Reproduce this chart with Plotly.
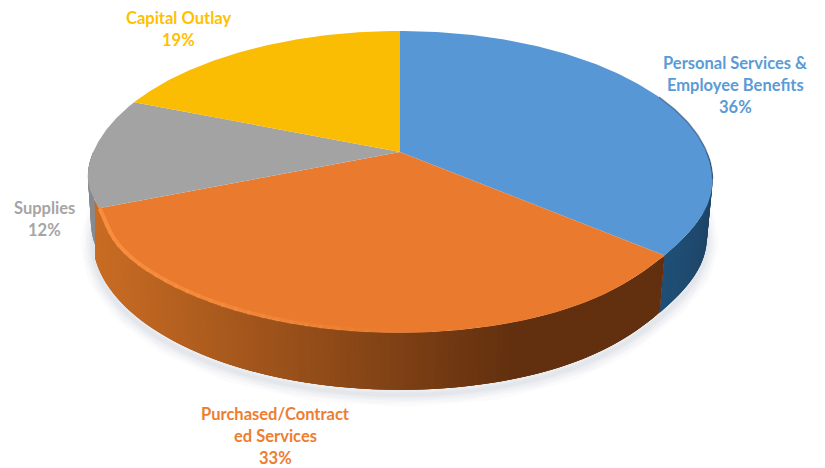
import numpy as np
import plotly.graph_objects as go

categories = ["Personal Services &\nEmployee Benefits", "Purchased/Contract\ned Services", "Supplies", "Capital Outlay"]
shares = [36, 33, 12, 19]
top_colors = ["#5797D5", "#EA7A2E", "#A3A3A3", "#FBBC04"]
text_colors = ["#5B9BD5", "#ED7D31", "#A5A5A5", "#FFC000"]
wall_near = [(32, 80, 120), (200, 108, 36), (135, 138, 142), None]
wall_far = [(30, 60, 90), (98, 48, 15), (110, 112, 116), None]
label_centres = [(735, 63), (275, 414), (44, 208), (178, 18)]

W, H = 825, 468
CX, CY, A, B, K, DEPTH = 400, 152, 145.0, 306.8, 0.198, 57
LOWER_SCALE = 0.982


def rim(theta, left_pinch=True):
    theta = np.asarray(theta, dtype=float)
    w = 1 + K * np.cos(theta)
    # the lens of the 3-D view pulls the two front corners in slightly
    pinch = np.exp(-((theta - 2.26) / 0.3) ** 2)
    if left_pinch:
        pinch = pinch + np.exp(-((theta - 4.3) / 0.16) ** 2)
    f = 1 - 0.022 * pinch
    return CX + f * B * np.sin(theta) / w, CY - f * A * np.cos(theta) / w


def lower(x, y, depth):
    return CX + (x - CX) * (1 - (1 - LOWER_SCALE) * depth / DEPTH), y + depth


fig = go.Figure()


def poly(x, y, fill, width=0):
    fig.add_trace(go.Scatter(x=x, y=y, mode="lines", fill="toself", fillcolor=fill,
                             line=dict(color=fill, width=width),
                             hoverinfo="skip", showlegend=False))


fracs = np.cumsum([0] + shares) / sum(shares) * 2 * np.pi
circle = np.linspace(0, 2 * np.pi, 361)
sx, sy = lower(*rim(circle, left_pinch=False), DEPTH)

# soft shadow below the disc
for wd, a in [(24, .05), (18, .06), (13, .07), (8, .08), (4, .10)]:
    fig.add_trace(go.Scatter(x=sx, y=sy + 5, mode="lines",
                             line=dict(color=f"rgba(170,178,195,{a})", width=wd),
                             hoverinfo="skip", showlegend=False))

# side walls, only the part of each slice that faces the viewer; grey first so orange overlaps it
for i in [2, 0, 1]:
    lo, hi = max(fracs[i], np.pi / 2), min(fracs[i + 1], 3 * np.pi / 2)
    if i == 1:
        hi += 0.05
    depth = 38 if i == 2 else DEPTH
    steps = max(4, int((hi - lo) * 60))
    edges = np.linspace(lo, hi, steps + 1)
    for j in range(steps):
        # each band runs on under the next one, so no seam shows between them
        t = np.linspace(edges[j], edges[min(j + 3, steps)], 10)
        x, y = rim(t)
        bx, by = lower(*rim(t, left_pinch=False), depth)
        mix = np.clip((rim(edges[j])[0] - 100) / 420, 0, 1)
        if i == 0:
            mix = 1 - (edges[j] - lo) / (hi - lo)
        c = [int(wall_near[i][n] * (1 - mix) + wall_far[i][n] * mix) for n in range(3)]
        poly(np.r_[x, bx[::-1]], np.r_[y, by[::-1]], f"rgb({c[0]},{c[1]},{c[2]})")

# top faces
for i in range(len(shares)):
    t = np.linspace(fracs[i], fracs[i + 1], 160)
    x, y = rim(t)
    poly(np.r_[CX, x, CX], np.r_[CY, y, CY], top_colors[i])

# bevel highlight along the front of the orange slice
t = np.linspace(fracs[1] + 0.01, fracs[2] - 0.01, 200)
x, y = rim(t)
tm = np.clip((x - 100) / 420, 0, 1)
for j in range(0, 199, 4):
    seg = slice(j, j + 6)
    m = tm[j]
    fig.add_trace(go.Scatter(x=x[seg], y=y[seg] - 1.5, mode="lines",
                             line=dict(color=f"rgba(248,142,62,{max(0, 1 - m * 1.3):.2f})", width=4),
                             hoverinfo="skip", showlegend=False))

# dark edge on the far right of the blue slice
t = np.linspace(1.15, 1.75, 40)
x, y = rim(t)
fig.add_trace(go.Scatter(x=x, y=y, mode="lines", line=dict(color="rgba(40,70,110,.6)", width=1.5),
                         hoverinfo="skip", showlegend=False))

# data labels
for name, share, col, (lx, ly) in zip(categories, shares, text_colors, label_centres):
    lines = name.split("\n") + [f"{share}%"]
    for n, line in enumerate(lines):
        fig.add_annotation(x=lx, y=ly + n * 22, text=f"<b>{line}</b>", showarrow=False,
                           font=dict(family="Lato", size=16.5, color=col),
                           xanchor="center", yanchor="middle")

fig.update_xaxes(range=[0, W], visible=False, fixedrange=True)
fig.update_yaxes(range=[H, 0], visible=False, fixedrange=True)
fig.update_layout(width=W, height=H, margin=dict(l=0, r=0, t=0, b=0),
                  paper_bgcolor="white", plot_bgcolor="white", showlegend=False)
fig.write_html("out.html", config={"displayModeBar": False},
               post_script="document.body.style.margin='0';document.body.style.overflow='hidden';")
